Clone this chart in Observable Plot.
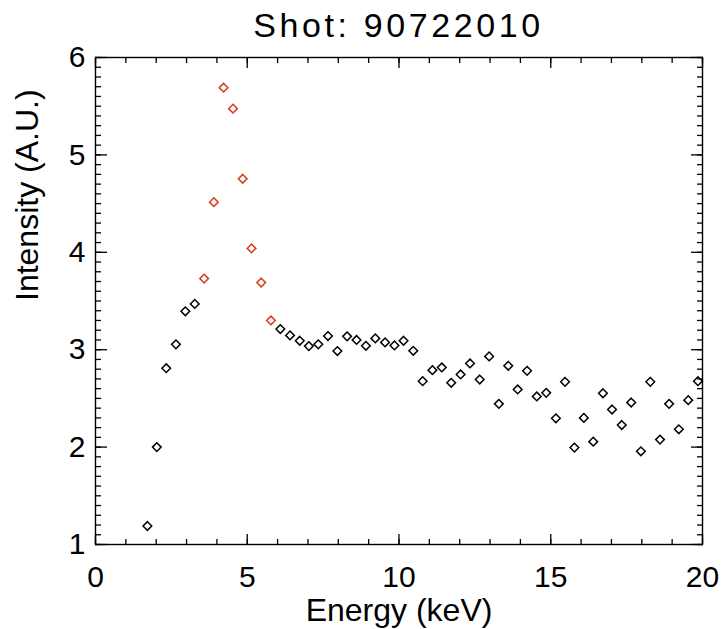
<!DOCTYPE html>
<html>
<head>
<meta charset="utf-8">
<script src="https://cdn.jsdelivr.net/npm/d3@7"></script>
<script src="https://cdn.jsdelivr.net/npm/@observablehq/plot@0.6"></script>
<style>
  body { margin: 0; background: #fff; font-family: "Liberation Sans", Arial, sans-serif; }
  #wrap { position: relative; width: 725px; height: 629px; }
  #title { position: absolute; left: 0; top: 0; z-index: 2; width: 725px; height: 50px; box-sizing: border-box;
           padding-left: 72px; text-align: center; font-size: 34px; line-height: 50px; color: #000;
           letter-spacing: 3.6px; white-space: nowrap; }
  #chart { position: absolute; left: 0; top: 0; z-index: 1; }
</style>
</head>
<body>
<div id="wrap">
  <div id="chart"></div>
  <div id="title"></div>
</div>
<script>
const titleText = "Shot: 90722010";
const xLabel = "Energy (keV)";
const yLabel = "Intensity (A.U.)";

const energy = [
  1.71, 2.02, 2.33, 2.65, 2.96, 3.27, 3.58, 3.90, 4.22, 4.53,
  4.85, 5.14, 5.46, 5.78, 6.09, 6.41, 6.73, 7.03, 7.34, 7.66,
  7.97, 8.29, 8.60, 8.91, 9.22, 9.54, 9.85, 10.15, 10.47, 10.78,
  11.10, 11.41, 11.72, 12.03, 12.34, 12.66, 12.97, 13.29, 13.60, 13.91,
  14.22, 14.54, 14.85, 15.17, 15.47, 15.78, 16.09, 16.40, 16.72, 17.02,
  17.34, 17.65, 17.97, 18.28, 18.60, 18.90, 19.22, 19.53, 19.85
];
const intensity = [
  1.19, 2.00, 2.81, 3.055, 3.394, 3.47, 3.73, 4.515, 5.69, 5.475,
  4.755, 4.04, 3.69, 3.30, 3.212, 3.147, 3.092, 3.037, 3.055, 3.14,
  2.986, 3.137, 3.10, 3.04, 3.116, 3.075, 3.044, 3.092, 2.989, 2.677,
  2.79, 2.818, 2.66, 2.746, 2.859, 2.694, 2.931, 2.444, 2.835, 2.592,
  2.783, 2.52, 2.557, 2.296, 2.67, 1.995, 2.30, 2.056, 2.553, 2.386,
  2.227, 2.458, 1.957, 2.67, 2.077, 2.444, 2.183, 2.482, 2.677
];
// which points belong to the highlighted (red) peak
const series = energy.map((e, i) => (i >= 6 && i <= 13) ? "peak" : "spectrum");
const seriesNames = ["spectrum", "peak"];
const seriesColors = ["#000000", "#d93a1c"];

const xTicks = [0, 5, 10, 15, 20];
const yTicks = [1, 2, 3, 4, 5, 6];
const xMinorTicks = d3.range(0, 21, 1);
const yMinorTicks = d3.range(10, 61, 1).map(v => v / 10);

document.getElementById("title").textContent = titleText;

const data = energy.map((e, i) => ({energy: e, intensity: intensity[i], series: series[i]}));

const tickStyle = {stroke: "black", strokeWidth: 1.3, fill: "none", label: null};
const intFormat = d => String(d);

const chart = Plot.plot({
  width: 725,
  height: 629,
  marginTop: 57,
  marginBottom: 85,
  marginLeft: 95,
  marginRight: 23,
  style: {fontFamily: "'Liberation Sans', Arial, sans-serif", background: "white", color: "black"},
  x: {domain: [0, 20]},
  y: {domain: [1, 6]},
  color: {domain: seriesNames, range: seriesColors},
  marks: [
    // minor & major ticks, drawn inward on all four sides
    Plot.axisX(xMinorTicks, {anchor: "bottom", tickSize: -5, ...tickStyle}),
    Plot.axisX(xTicks, {anchor: "bottom", tickSize: -10, ...tickStyle}),
    Plot.axisX(xMinorTicks, {anchor: "top", tickSize: -5, ...tickStyle}),
    Plot.axisX(xTicks, {anchor: "top", tickSize: -10, ...tickStyle}),
    Plot.axisY(yMinorTicks, {anchor: "left", tickSize: -6, ...tickStyle}),
    Plot.axisY(yTicks, {anchor: "left", tickSize: -12, ...tickStyle}),
    Plot.axisY(yMinorTicks, {anchor: "right", tickSize: -6, ...tickStyle}),
    Plot.axisY(yTicks, {anchor: "right", tickSize: -12, ...tickStyle}),
    // tick labels
    Plot.axisX(xTicks, {anchor: "bottom", tickSize: 0, tickPadding: 21, fontSize: 30, label: null, fill: "black", tickFormat: intFormat}),
    Plot.axisY(yTicks, {anchor: "left", tickSize: 0, tickPadding: 10, fontSize: 30, label: null, fill: "black", tickFormat: intFormat}),
    Plot.frame({stroke: "black", strokeWidth: 1.4}),
    Plot.dot(data, {x: "energy", y: "intensity", stroke: "series", symbol: "diamond2", r: 3.9, strokeWidth: 1.5}),
    // axis titles
    Plot.text([xLabel], {text: d => d, frameAnchor: "bottom", dy: 66, lineAnchor: "middle", fontSize: 32, fill: "black"}),
    Plot.text([yLabel], {text: d => d, frameAnchor: "left", dx: -68, rotate: -90, lineAnchor: "middle", fontSize: 32, fill: "black"})
  ]
});
document.getElementById("chart").appendChild(chart);
</script>
</body>
</html>
